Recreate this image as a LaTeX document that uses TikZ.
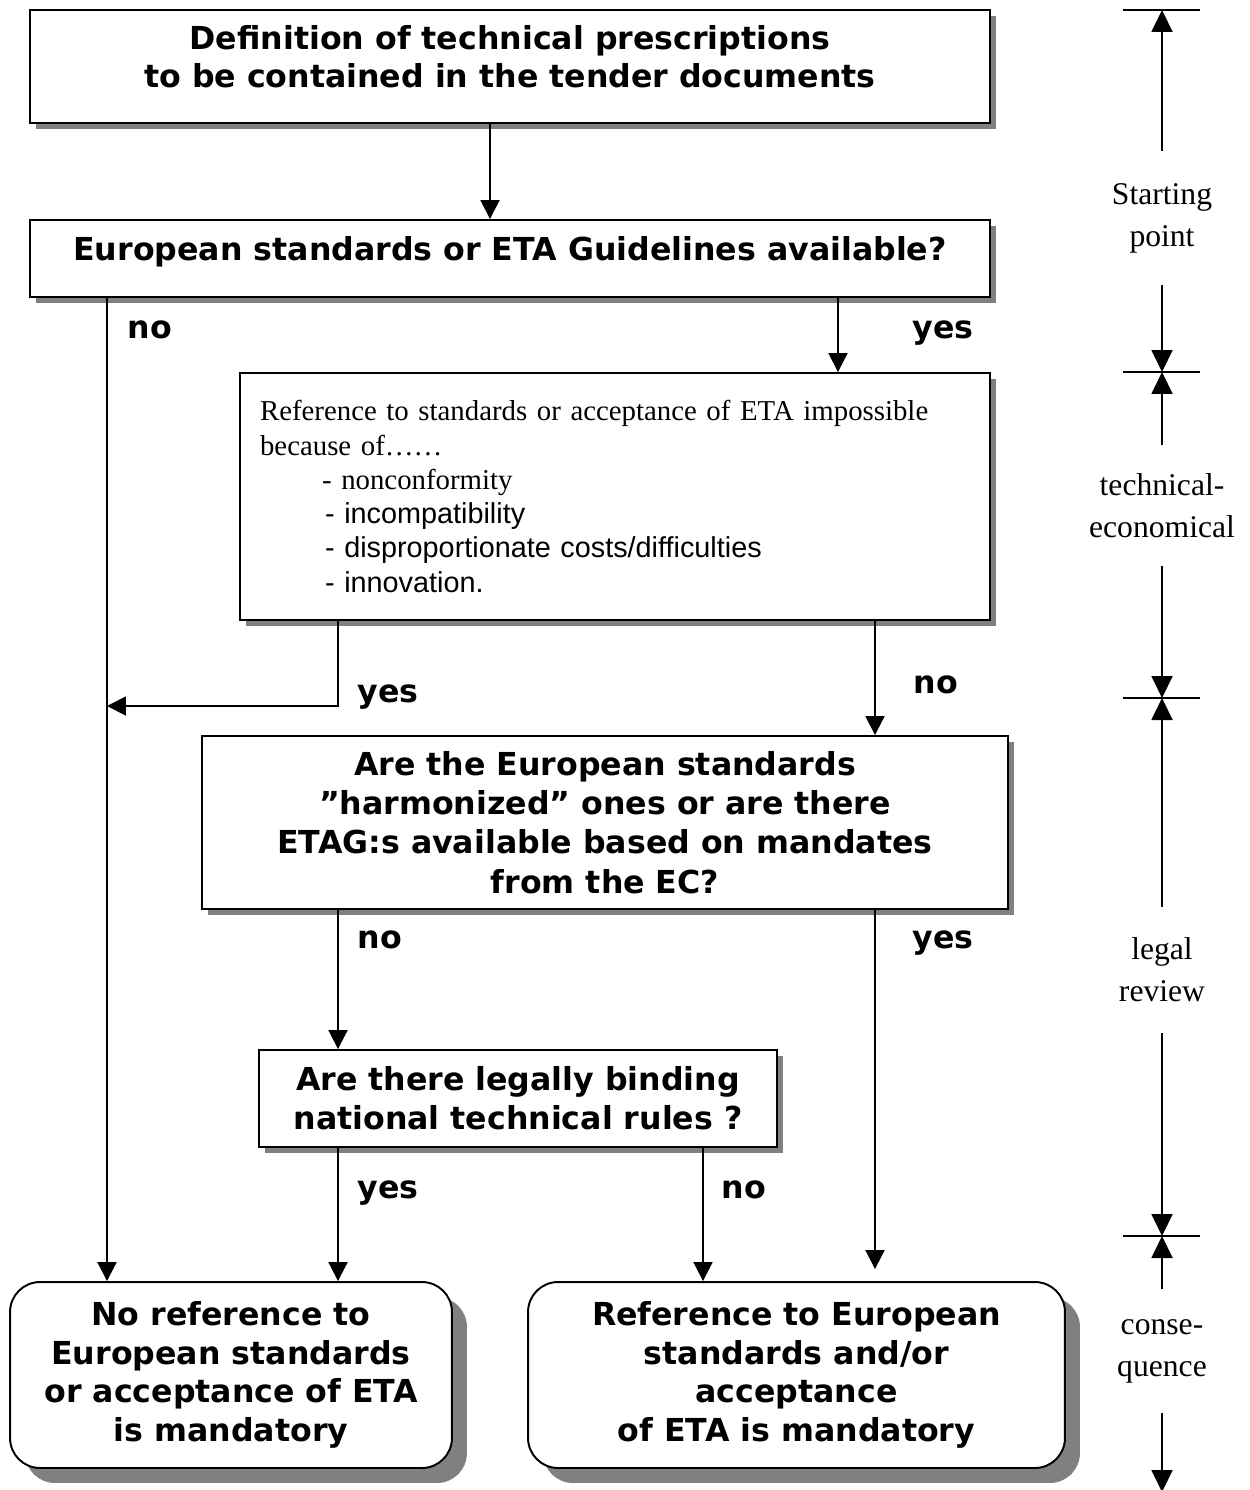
\documentclass[tikz,border=0pt]{standalone}
\usepackage{fontspec}
\setmainfont{Liberation Serif}
\newfontfamily\verd{DejaVu Sans}
\newfontfamily\arialf{Liberation Sans}
\usetikzlibrary{arrows.meta,shadows}

\begin{document}
\begin{tikzpicture}[x=0.02cm, y=-0.02cm, line width=1.1pt,
		every node/.style={inner sep=0pt},
		plainbox/.style={draw, fill=white, align=center, font=\verd\bfseries\fontsize{18}{22}\selectfont,
			drop shadow={shadow xshift=0.12cm, shadow yshift=-0.12cm, fill=black!50, opacity=1}},
		roundbox/.style={draw, fill=white, align=center, rounded corners=0.6cm, font=\verd\bfseries\fontsize{18}{22}\selectfont,
			drop shadow={shadow xshift=0.3cm, shadow yshift=-0.3cm, fill=black!50, opacity=1}},
		answer/.style={font=\verd\bfseries\fontsize{18}{22}\selectfont},
		phase/.style={align=center, font=\fontsize{18}{24}\selectfont, minimum width=2.6cm},
		arr/.style={-{Triangle[length=0.38cm,width=0.38cm]}},
		tip/.style={-{Triangle[length=0.44cm,width=0.42cm]}}]
	
	\useasboundingbox (0,0) rectangle (1249,1490);
	
	% Columns of the connectors
	\coordinate (xa) at (107,0);
	\coordinate (xb) at (338,0);
	\coordinate (xc) at (838,0);
	\coordinate (xd) at (875,0);
	\coordinate (xe) at (703,0);
	\coordinate (xf) at (490,0);
	
	% Boxes
	\node[plainbox, minimum width=19.2cm, minimum height=2.26cm, text depth=0.4cm] (def) at (510,66.5)
		{Definition of technical prescriptions\\to be contained in the tender documents};
	\node[plainbox, minimum width=19.2cm, minimum height=1.54cm, text depth=0.4cm] (avail) at (510,258.5)
		{European standards or ETA Guidelines available?};
	\node[plainbox, minimum width=15cm, minimum height=4.94cm, text width=14.2cm, align=left,
		font=\fontsize{16.4}{19.5}\selectfont] (reason) at (615,496.5)
		{Reference to standards or acceptance of ETA impossible\\
		 because of……\\
		 \hspace*{1.24cm}- nonconformity\\
		 {\arialf\hspace*{1.3cm}- incompatibility}\\
		 {\arialf\hspace*{1.3cm}- disproportionate costs/difficulties}\\
		 {\arialf\hspace*{1.3cm}- innovation.}};
	\node[plainbox, minimum width=16.12cm, minimum height=3.46cm, font=\verd\bfseries\fontsize{18}{22.3}\selectfont] (harm) at (605,822.5)
		{Are the European standards\\”harmonized” ones or are there\\ETAG:s available based on mandates\\from the EC?};
	\node[plainbox, minimum width=10.36cm, minimum height=1.94cm] (rules) at (518,1098.5)
		{Are there legally binding\\national technical rules ?};
	\node[roundbox, minimum width=8.84cm, minimum height=3.72cm] (none) at (231,1375)
		{No reference to\\European standards\\or acceptance of ETA\\is mandatory};
	\node[roundbox, minimum width=10.74cm, minimum height=3.72cm] (must) at (796.5,1375)
		{Reference to European\\standards and/or\\acceptance\\of ETA is mandatory};
	
	% Connectors
	\draw[arr] (def.south -| xf) -- (avail.north -| xf);
	\draw[arr] (avail.south -| xa) -- (none.north -| xa);
	\draw[arr] (avail.south -| xc) -- (reason.north -| xc);
	\coordinate (join) at (107,706);
	\draw[arr] (reason.south -| xb) |- (join);
	\draw[arr] (reason.south -| xd) -- (harm.north -| xd);
	\draw[arr] (harm.south -| xb) -- (rules.north -| xb);
	\draw[arr, shorten >=0.24cm] (harm.south -| xd) -- (must.north -| xd);
	\draw[arr] (rules.south -| xb) -- (none.north -| xb);
	\draw[arr] (rules.south -| xe) -- (must.north -| xe);
	
	% yes / no labels
	\node[answer] (a1) at (150,330) {no};
	\node[answer] (a2) at (943,333) {yes};
	\node[answer] (a3) at (388,697) {yes};
	\node[answer] (a4) at (936,685) {no};
	\node[answer] (a5) at (380,940) {no};
	\node[answer] (a6) at (943,943) {yes};
	\node[answer] (a7) at (388,1193) {yes};
	\node[answer] (a8) at (744,1190) {no};
	
	% Phase scale on the right
	\coordinate (t0) at (1162,10);
	\coordinate (t1) at (1162,372);
	\coordinate (t2) at (1162,698);
	\coordinate (t3) at (1162,1236);
	\coordinate (t4) at (1162,1492);
	\foreach \t in {t0,t1,t2,t3}
		\draw ([xshift=-0.78cm]\t) -- ([xshift=0.76cm]\t);
	
	\node[phase, minimum height=2.64cm] (start) at (1162,218) {Starting\\point};
	\node[phase, minimum height=2.38cm] (techeco) at (1162,505.5) {technical-\\economical};
	\node[phase, minimum height=2.48cm] (legal) at (1162,970) {legal\\review};
	\node[phase, minimum height=2.44cm] (conseq) at (1162,1351) {conse-\\quence};
	
	\draw[tip] (start.north) -- (t0);
	\draw[tip] (start.south) -- (t1);
	\draw[tip] (techeco.north) -- (t1);
	\draw[tip] (techeco.south) -- (t2);
	\draw[tip] (legal.north) -- (t2);
	\draw[tip] (legal.south) -- (t3);
	\draw[tip] (conseq.north) -- (t3);
	\draw[tip] (conseq.south) -- (t4);
	
\end{tikzpicture}
\end{document}
